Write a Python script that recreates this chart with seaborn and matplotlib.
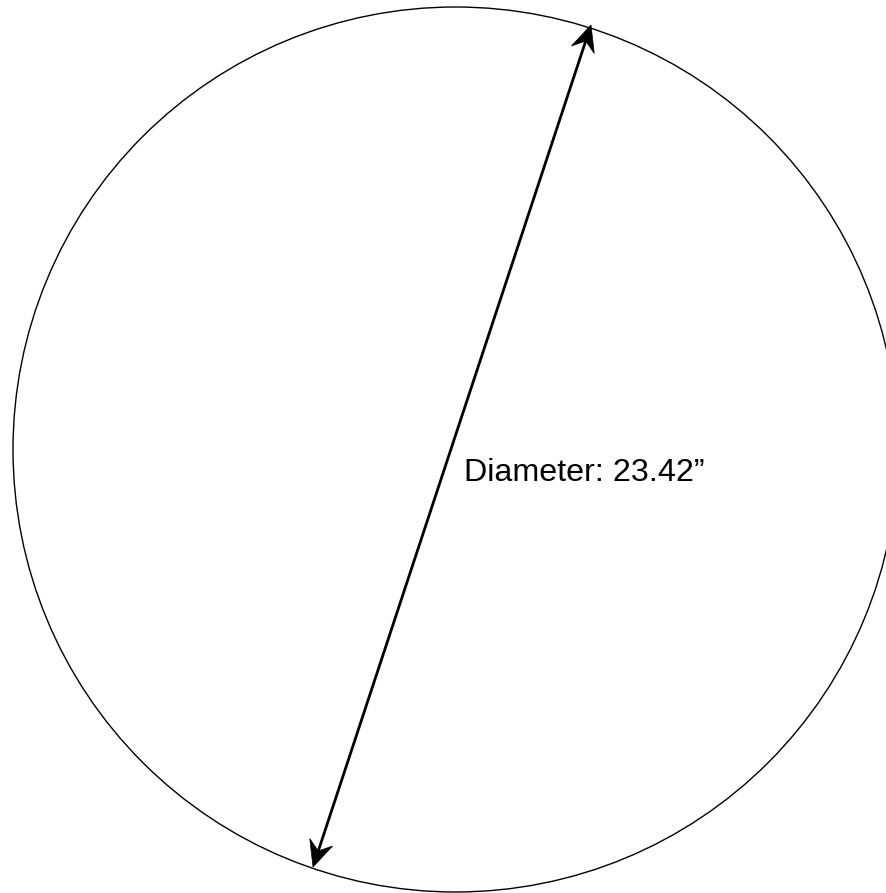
#!/usr/bin/env python3
import matplotlib
matplotlib.use("Agg")
import numpy as np
import matplotlib.pyplot as plt
from matplotlib.patches import Circle, Polygon
import seaborn as sns

# geometry (pixel units, y grows downward)
circle_center = (455.5, 449.5)
circle_radius = 442.5
arrow_start = (313, 867)
arrow_end = (591, 25)
label_text = "Diameter: 23.42\u201d"
label_pos = (464, 481)


def notched_head(ax, tip, tail, length=26, width=24, notch=0.65):
    """Draw a swept-back arrow head at tip, pointing away from tail."""
    tip = np.asarray(tip, float)
    u = tip - np.asarray(tail, float)
    u /= np.linalg.norm(u)
    n = np.array([-u[1], u[0]])
    pts = [tip,
           tip - length * u + width / 2 * n,
           tip - notch * length * u,
           tip - length * u - width / 2 * n]
    ax.add_patch(Polygon(pts, closed=True, facecolor='black',
                         edgecolor='black', linewidth=0.5))
    return tip - notch * length * u


sns.set_theme(style="white")
plt.rcParams['font.family'] = ['Liberation Sans', 'DejaVu Sans']

fig = plt.figure(figsize=(8.87, 8.93), dpi=100)
ax = fig.add_axes([0, 0, 1, 1])
ax.set_xlim(0, 887)
ax.set_ylim(893, 0)
ax.axis('off')

ax.add_patch(Circle(circle_center, circle_radius, fill=False,
                    edgecolor='black', linewidth=1.0))

# shaft ends at the notch of each head
p_top = notched_head(ax, arrow_end, arrow_start)
p_bot = notched_head(ax, arrow_start, arrow_end)
ax.plot([p_bot[0], p_top[0]], [p_bot[1], p_top[1]], color='black',
        linewidth=2, solid_capstyle='butt')

ax.text(label_pos[0], label_pos[1], label_text, fontsize=23.2,
        ha='left', va='baseline', color='black')

fig.savefig('out.png', dpi=100)
